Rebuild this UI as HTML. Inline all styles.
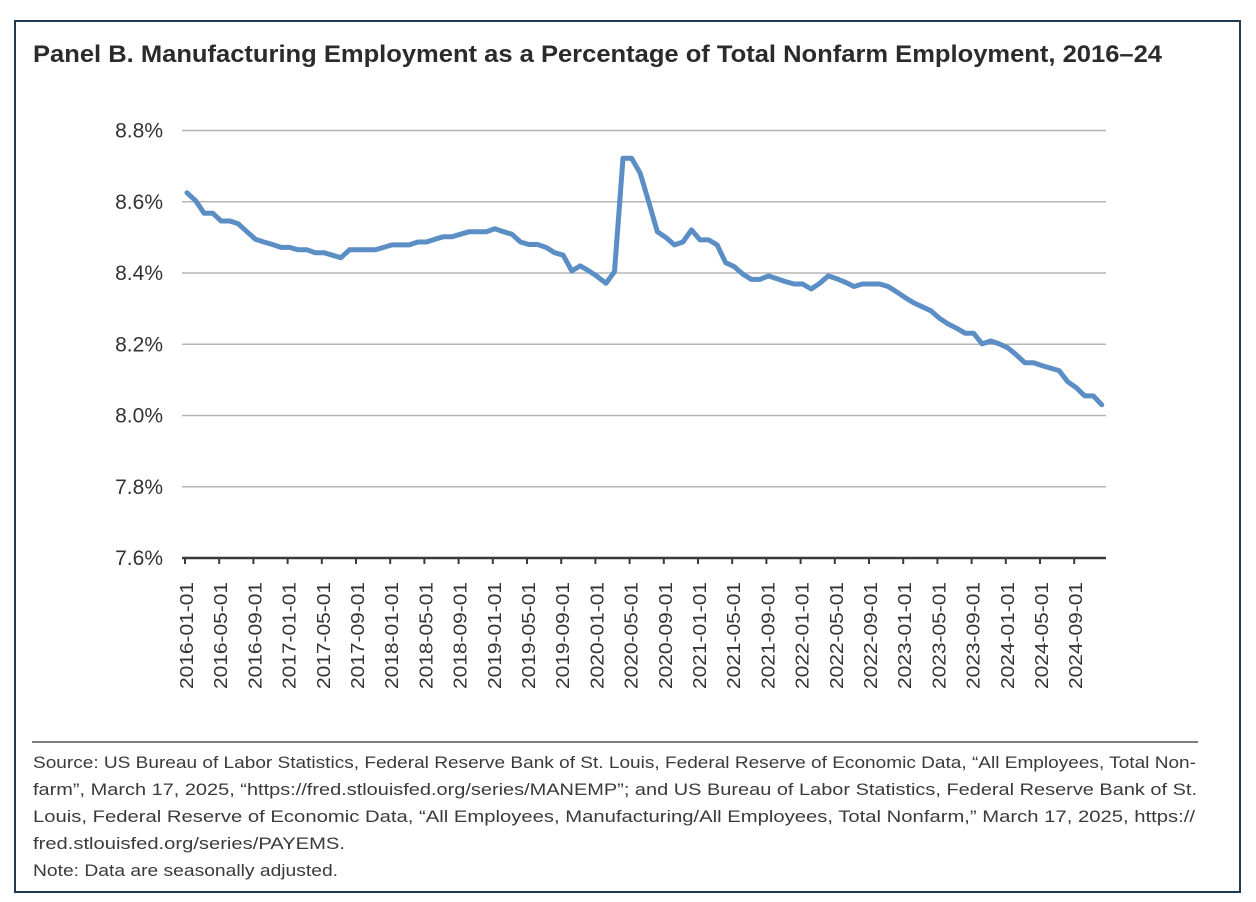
<!DOCTYPE html>
<html><head><meta charset="utf-8"><style>
html,body{margin:0;padding:0;background:#fff;}
svg{display:block;}
</style></head><body>
<svg width="1256" height="902" viewBox="0 0 1256 902" xmlns="http://www.w3.org/2000/svg">
<rect x="15" y="21" width="1225" height="871" fill="#fff" stroke="#1f3a52" stroke-width="2"/>
<text x="33" y="62" font-family="Liberation Sans, sans-serif" font-weight="bold" font-size="24" fill="#2b2b2b" textLength="1129" lengthAdjust="spacingAndGlyphs">Panel B. Manufacturing Employment as a Percentage of Total Nonfarm Employment, 2016–24</text>
<g id="grid"></g>
<g id="yticks"></g>
<line x1="182" y1="558" x2="1106" y2="558" stroke="#3a3a3a" stroke-width="2.5"/>
<g id="xticks"></g>
<path id="series" fill="none" stroke="#5b8ec4" stroke-width="5" stroke-linejoin="round" stroke-linecap="round"/>
<line x1="32" y1="742" x2="1198" y2="742" stroke="#555" stroke-width="1.5"/>
<g font-family="Liberation Sans, sans-serif" font-size="17" fill="#3a3a3a">
<text x="33" y="768" textLength="1163" lengthAdjust="spacingAndGlyphs">Source: US Bureau of Labor Statistics, Federal Reserve Bank of St. Louis, Federal Reserve of Economic Data, “All Employees, Total Non-</text>
<text x="33" y="795" textLength="1164" lengthAdjust="spacingAndGlyphs">farm”, March 17, 2025, “https://fred.stlouisfed.org/series/MANEMP”; and US Bureau of Labor Statistics, Federal Reserve Bank of St.</text>
<text x="33" y="822" textLength="1162" lengthAdjust="spacingAndGlyphs">Louis, Federal Reserve of Economic Data, “All Employees, Manufacturing/All Employees, Total Nonfarm,” March 17, 2025, https://</text>
<text x="33" y="849" textLength="312" lengthAdjust="spacingAndGlyphs">fred.stlouisfed.org/series/PAYEMS.</text>
<text x="33" y="876" textLength="305" lengthAdjust="spacingAndGlyphs">Note: Data are seasonally adjusted.</text>
</g>
</svg>
<script>
const yTicks = [8.8, 8.6, 8.4, 8.2, 8.0, 7.8, 7.6];
const xLabels = ["2016-01-01","2016-05-01","2016-09-01","2017-01-01","2017-05-01","2017-09-01","2018-01-01","2018-05-01","2018-09-01","2019-01-01","2019-05-01","2019-09-01","2020-01-01","2020-05-01","2020-09-01","2021-01-01","2021-05-01","2021-09-01","2022-01-01","2022-05-01","2022-09-01","2023-01-01","2023-05-01","2023-09-01","2024-01-01","2024-05-01","2024-09-01"];
const values = [8.625,8.603,8.568,8.568,8.546,8.546,8.538,8.516,8.495,8.487,8.48,8.472,
8.472,8.465,8.465,8.457,8.457,8.45,8.443,8.465,8.465,8.465,8.465,8.472,
8.479,8.479,8.479,8.487,8.487,8.495,8.502,8.502,8.509,8.516,8.516,8.516,
8.524,8.516,8.509,8.487,8.48,8.48,8.472,8.457,8.45,8.406,8.42,8.406,
8.39,8.371,8.404,8.722,8.722,8.68,8.6,8.516,8.5,8.479,8.487,8.521,
8.493,8.493,8.479,8.429,8.418,8.397,8.382,8.382,8.392,8.384,8.376,8.369,
8.369,8.355,8.371,8.392,8.384,8.374,8.362,8.369,8.369,8.369,8.362,8.347,
8.331,8.316,8.305,8.294,8.273,8.257,8.245,8.231,8.231,8.201,8.209,8.201,
8.19,8.17,8.148,8.148,8.14,8.133,8.126,8.095,8.078,8.055,8.055,8.03];

const NS = "http://www.w3.org/2000/svg";
const yMin = 7.6, yMax = 8.8, yTop = 130.5, yBot = 558;
const x0 = 187, dx = 8.55;
function yScale(v){ return yBot - (v - yMin) / (yMax - yMin) * (yBot - yTop); }
function xScale(i){ return x0 + i * dx; }

const grid = document.getElementById('grid');
const yt = document.getElementById('yticks');
yTicks.forEach(function(t){
  const y = yScale(t);
  if (t > yMin + 1e-9) {
    const l = document.createElementNS(NS,'line');
    l.setAttribute('x1',182); l.setAttribute('x2',1106);
    l.setAttribute('y1',y); l.setAttribute('y2',y);
    l.setAttribute('stroke','#b5b5b5'); l.setAttribute('stroke-width','1.5');
    
    
    grid.appendChild(l);
  }
  const tx = document.createElementNS(NS,'text');
  tx.setAttribute('x',163); tx.setAttribute('y',y+7);
  tx.setAttribute('text-anchor','end');
  tx.setAttribute('font-family','Liberation Sans, sans-serif');
  tx.setAttribute('font-size','21'); tx.setAttribute('fill','#333');
  tx.textContent = t.toFixed(1) + '%';
  
  
  yt.appendChild(tx);
});

const xt = document.getElementById('xticks');
xLabels.forEach(function(lab, k){
  const x = xScale(k*4) - 2;
  const tk = document.createElementNS(NS,'line');
  tk.setAttribute('x1',x); tk.setAttribute('x2',x);
  tk.setAttribute('y1',558); tk.setAttribute('y2',564);
  tk.setAttribute('stroke','#3a3a3a'); tk.setAttribute('stroke-width','2');
  
  
  xt.appendChild(tk);
  const tx = document.createElementNS(NS,'text');
  tx.setAttribute('transform','translate(' + (x+8) + ',582) rotate(-90)');
  tx.setAttribute('text-anchor','end');
  tx.setAttribute('font-family','Liberation Sans, sans-serif');
  tx.setAttribute('font-size','18'); tx.setAttribute('fill','#333');
  tx.setAttribute('textLength','107'); tx.setAttribute('lengthAdjust','spacingAndGlyphs');
  tx.textContent = lab;
  
  
  xt.appendChild(tx);
});

let d = '';
values.forEach(function(v,i){ d += (i ? 'L' : 'M') + xScale(i).toFixed(1) + ',' + yScale(v).toFixed(1); });
document.getElementById('series').setAttribute('d', d);
</script>
</body></html>
